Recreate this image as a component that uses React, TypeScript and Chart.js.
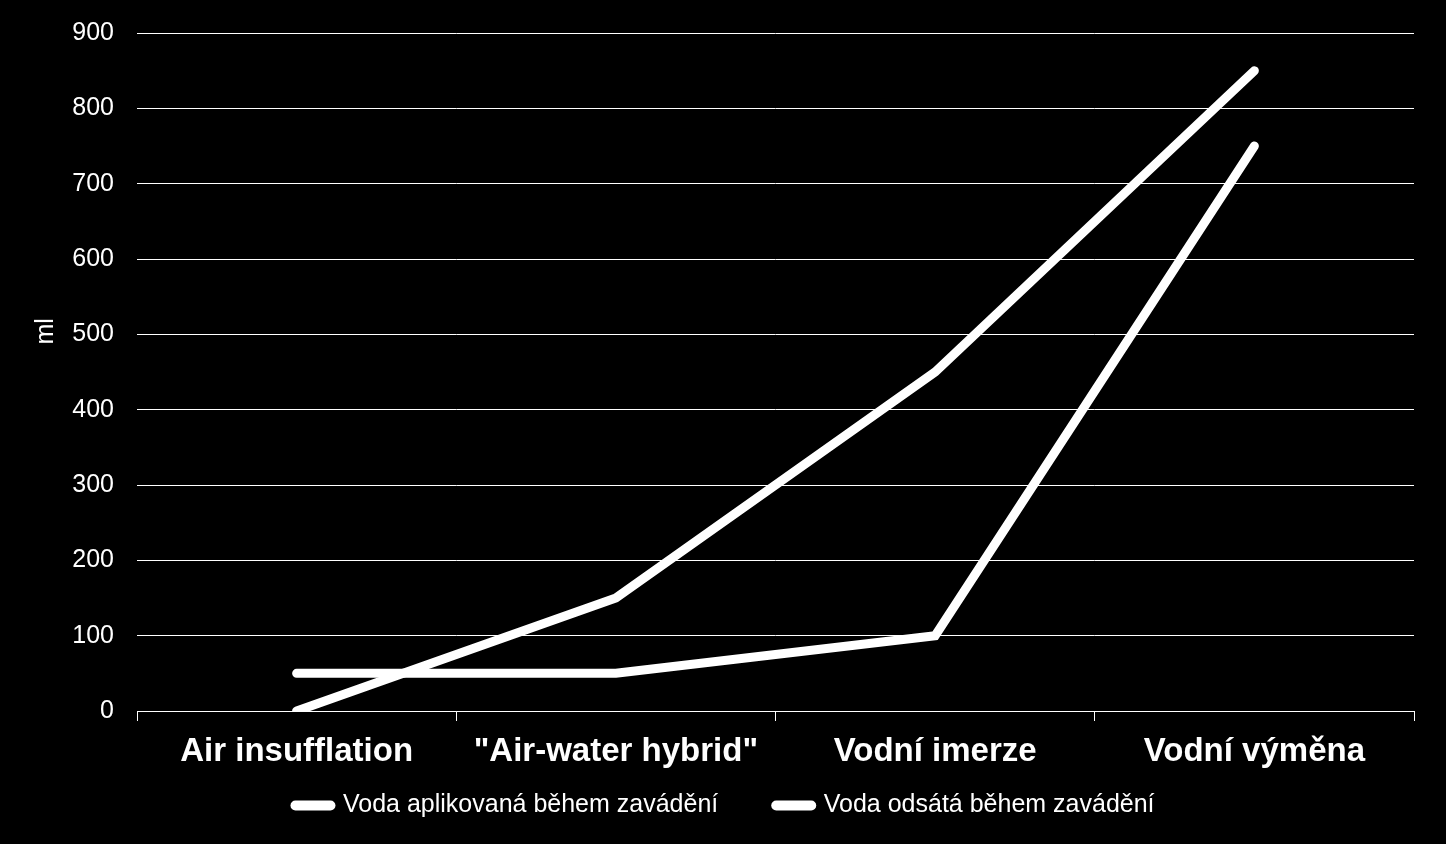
import React, { useEffect, useRef } from "react";
import { Chart, registerables } from "chart.js";

Chart.register(...registerables);

const categories = ['Air insufflation', '"Air-water hybrid"', 'Vodní imerze', 'Vodní výměna'];
const seriesNames = ['Voda aplikovaná během zavádění', 'Voda odsátá během zavádění'];
const appliedWater = [0, 150, 450, 850];
const suctionedWater = [50, 50, 100, 750];
const yTitle = 'ml';
const yMin = 0;
const yMax = 900;
const yStep = 100;

const FONT = '"Liberation Sans", Arial, sans-serif';

export default function App() {
  const ref = useRef<HTMLCanvasElement>(null);

  useEffect(() => {
    document.body.style.margin = '0';
    document.body.style.background = '#000';
    const canvas = ref.current!;

    const layoutPlugin = {
      id: 'layoutPlugin',
      afterLayout(chart: any) {
        const lg = chart.legend;
        if (lg) {
          const h = lg.bottom - lg.top;
          lg.top = 735;
          lg.bottom = 735 + h;
          lg.left += 18;
          lg.right += 18;
        }
      },
      afterDraw(chart: any) {
        const ctx = chart.ctx;
        ctx.save();
        ctx.fillStyle = '#fff';
        ctx.font = `25px ${FONT}`;
        ctx.textAlign = 'center';
        ctx.textBaseline = 'middle';
        const a = chart.chartArea;
        ctx.translate(46, a.top + (a.bottom - a.top) * 0.44);
        ctx.rotate(-Math.PI / 2);
        ctx.fillText(yTitle, 0, 0);
        ctx.restore();
      },
    };

    const chart = new Chart(canvas, {
      type: 'line',
      data: {
        labels: categories,
        datasets: [
          {
            label: seriesNames[0],
            data: appliedWater,
            borderColor: '#fff',
            backgroundColor: '#fff',
            borderWidth: 9,
            borderCapStyle: 'round',
            pointRadius: 0,
            pointStyle: 'line',
            tension: 0,
          },
          {
            label: seriesNames[1],
            data: suctionedWater,
            borderColor: '#fff',
            backgroundColor: '#fff',
            borderWidth: 9,
            borderCapStyle: 'round',
            pointRadius: 0,
            pointStyle: 'line',
            tension: 0,
          },
        ],
      },
      options: {
        responsive: false,
        animation: false,
        devicePixelRatio: 1,
        layout: { padding: { top: 33, right: 32, bottom: -30, left: 0 } },
        plugins: {
          tooltip: { enabled: false },
          legend: {
            position: 'bottom',
            labels: {
              color: '#fff',
              font: { family: FONT, size: 25 },
              usePointStyle: true,
              pointStyle: 'line',
              pointStyleWidth: 35,
              boxWidth: 35,
              padding: 58,
              generateLabels: (c: any) =>
                (Chart.defaults.plugins.legend.labels.generateLabels as any)(c).map((l: any) => ({
                  ...l,
                  lineCap: 'round',
                  lineWidth: 10,
                })),
            },
          },
        },
        scales: {
          x: {
            offset: true,
            afterFit(scale: any) {
              scale.height = 70;
            },
            grid: {
              display: true,
              offset: true,
              drawOnChartArea: false,
              drawTicks: true,
              tickLength: 10,
              color: '#fff',
              lineWidth: 1,
            },
            border: { display: true, color: '#fff', width: 1 },
            ticks: {
              color: '#fff',
              font: { family: FONT, size: 33, weight: 'bold' },
              padding: 11,
              maxRotation: 0,
              autoSkip: false,
            },
          },
          y: {
            min: yMin,
            max: yMax,
            afterFit(scale: any) {
              scale.width = 137;
              scale.paddingTop = 0;
              scale.paddingBottom = 0;
            },
            grid: {
              color: '#fff',
              lineWidth: 1,
              drawTicks: false,
            },
            border: { display: false },
            ticks: {
              stepSize: yStep,
              color: '#fff',
              font: { family: FONT, size: 25 },
              padding: 23,
            },
          },
        },
      },
      plugins: [layoutPlugin],
    } as any);

    return () => chart.destroy();
  }, []);

  return (
    <div style={{ width: 1446, height: 844, background: '#000' }}>
      <canvas ref={ref} width={1446} height={844} style={{ display: 'block' }} />
    </div>
  );
}
